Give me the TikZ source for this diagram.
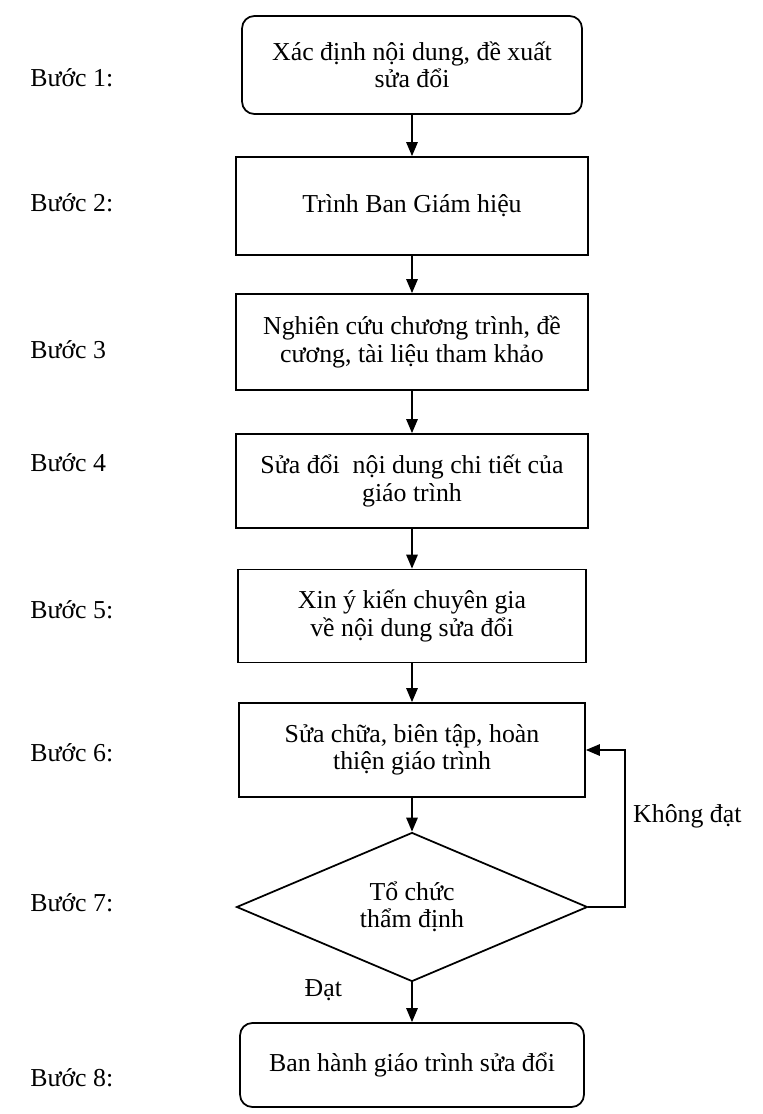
\documentclass[tikz,border=0pt]{standalone}
\usepackage{fontspec}
\setmainfont{Liberation Serif}
\usetikzlibrary{arrows.meta, shapes.geometric, positioning}

\begin{document}
\begin{tikzpicture}[
    x=0.02cm, y=-0.02cm,
    font=\fontsize{14.7}{15.6}\selectfont,
    >={Triangle[length=8pt, width=6.5pt]},
    % Define styles for the steps
    step_box/.style={draw, line width=1pt, align=center, inner sep=2pt,
        minimum width=7.04cm, minimum height=1.92cm},
    step_round/.style={step_box, rounded corners=7pt},
    step_check/.style={draw, line width=1pt, diamond, aspect=2.35, align=center,
        inner sep=0pt, minimum width=7.02cm, minimum height=2.98cm},
    step_label/.style={anchor=west, inner sep=0pt},
    flow/.style={->, line width=1pt}
]
\useasboundingbox (0,0) rectangle (762,1114);

% --- 1. Boxes of the procedure ---
\node[step_round, minimum width=6.8cm, minimum height=1.96cm] (b1) at (412,65)
    {Xác định nội dung, đề xuất\\sửa đổi};
\node[step_box, minimum height=1.96cm] (b2) at (412,206) {Trình Ban Giám hiệu};
\node[step_box] (b3) at (412,342) {Nghiên cứu chương trình, đề\\cương, tài liệu tham khảo};
\node[step_box, minimum height=1.88cm] (b4) at (412,481) {Sửa đổi~ nội dung chi tiết của\\giáo trình};
\node[step_box, minimum width=6.96cm, minimum height=1.86cm] (b5) at (412,616)
    {Xin ý kiến chuyên gia\\về nội dung sửa đổi};
\node[step_box, minimum width=6.92cm, minimum height=1.88cm] (b6) at (412,750)
    {Sửa chữa, biên tập, hoàn\\thiện giáo trình};
\node[step_check] (d7) at (412,907) {Tổ chức\\thẩm định};
\node[step_round, minimum width=6.88cm, minimum height=1.68cm] (b8) at (412,1065)
    {Ban hành giáo trình sửa đổi};

% --- 2. Step labels on the left ---
\node[step_label] (s1) at (30,78) {Bước 1:};
\node[step_label] (s2) at (30,203) {Bước 2:};
\node[step_label] (s3) at (30,350) {Bước 3};
\node[step_label] (s4) at (30,463) {Bước 4};
\node[step_label] (s5) at (30,610) {Bước 5:};
\node[step_label] (s6) at (30,753) {Bước 6:};
\node[step_label] (s7) at (30,903) {Bước 7:};
\node[step_label] (s8) at (30,1078) {Bước 8:};

% --- 3. Main flow ---
\draw[flow] (b1) -- (b2);
\draw[flow] (b2) -- (b3);
\draw[flow] (b3) -- (b4);
\draw[flow] (b4) -- (b5);
\draw[flow] (b5) -- (b6);
\draw[flow] (b6) -- (d7);
\draw[flow] (d7) -- (b8) node[pos=0.2, left=36pt] (pass) {Đạt};

% --- 4. Loop back when the check fails ---
\coordinate (back) at (625,907);
\draw[flow] (d7.east) -- (back) |- (b6.east);
\node[anchor=west] (fail) at (627,816) {Không đạt};

\end{tikzpicture}
\end{document}
